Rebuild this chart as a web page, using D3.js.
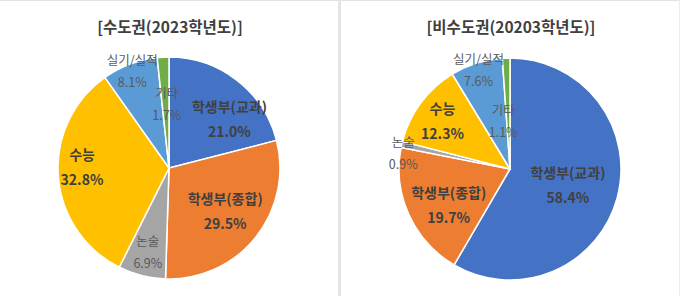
<!DOCTYPE html>
<html>
<head>
<meta charset="utf-8">
<script src="https://cdn.jsdelivr.net/npm/d3@7"></script>
<style>
  body { margin: 0; background: #fff; }
  svg { display: block; }
  text { font-family: "Noto Sans CJK KR", "Noto Sans", sans-serif; }
</style>
</head>
<body>
<div id="chart"></div>
<script>
// data
var categories = ['학생부(교과)', '학생부(종합)', '논술', '수능', '실기/실적', '기타']
var titles = ['[수도권(2023학년도)]', '[비수도권(20203학년도)]']
var capitalValues = [21.0, 29.5, 6.9, 32.8, 8.1, 1.7]
var nonCapitalValues = [58.4, 19.7, 0.9, 12.3, 7.6, 1.1]

var colors = ['#4472C4', '#ED7D31', '#A5A5A5', '#FFC000', '#5B9BD5', '#70AD47']

// label layout per panel: radius and angle shift (deg) from slice middle
var labelLayout = [
    { r: [78, 71, 86, 87, 104, 64], shift: [13, -1, 0, 5, 0, 1], big: [1, 1, 0, 1, 0, 0] },
    { r: [60, 71, 108, 83, 104, 49], shift: [0, -6, -4, -1, 0, -6], big: [1, 1, 0, 1, 0, 0] }
]

var width = 680, height = 296
var svg = d3.select('#chart').append('svg')
    .attr('width', width)
    .attr('height', height)

// frame
svg.append('line')
    .attr('x1', 0).attr('x2', width).attr('y1', 0.5).attr('y2', 0.5)
    .style('stroke', '#e2e2e2')
svg.append('rect')
    .attr('x', 338).attr('y', 0).attr('width', 3).attr('height', height)
    .style('fill', '#e4e4e4')
svg.append('line')
    .attr('x1', 679.5).attr('x2', 679.5).attr('y1', 0).attr('y2', height)
    .style('stroke', '#ececec')

var pie = d3.pie().sort(null).value(d => d)
var arc = d3.arc().innerRadius(0).outerRadius(111)

var panels = [
    { cx: 169, cy: 168, values: capitalValues },
    { cx: 510, cy: 169, values: nonCapitalValues }
]

panels.forEach((p, pi) => {
    svg.append('text')
        .attr('x', p.cx + 1)
        .attr('y', 33)
        .attr('text-anchor', 'middle')
        .style('font-size', '15.5px')
        .style('font-weight', 'bold')
        .style('fill', '#404040')
        .text(titles[pi])

    var g = svg.append('g')
        .attr('transform', `translate(${p.cx}, ${p.cy})`)

    var arcs = pie(p.values)

    g.selectAll('path')
        .data(arcs).enter()
        .append('path')
        .attr('d', arc)
        .style('fill', (d, i) => colors[i])
        .style('stroke', '#fff')
        .style('stroke-width', 1.5)

    var lay = labelLayout[pi]
    var labels = g.selectAll('.lbl')
        .data(arcs).enter()
        .append('text')
        .attr('class', 'lbl')
        .attr('text-anchor', 'middle')
        .attr('transform', (d, i) => {
            var a = (d.startAngle + d.endAngle) / 2 + lay.shift[i] * Math.PI / 180
            var x = lay.r[i] * Math.sin(a)
            var y = -lay.r[i] * Math.cos(a)
            return `translate(${x}, ${y})`
        })
        .style('font-size', (d, i) => lay.big[i] ? '14px' : '12.5px')
        .style('font-weight', (d, i) => lay.big[i] ? 'bold' : 'normal')
        .style('fill', (d, i) => lay.big[i] ? '#404040' : '#595959')

    labels.append('tspan')
        .attr('x', 0)
        .attr('dy', (d, i) => lay.big[i] ? '-0.5em' : '-0.45em')
        .text((d, i) => categories[i])
    labels.append('tspan')
        .attr('x', 0)
        .attr('dy', (d, i) => lay.big[i] ? 25 : 22)
        .text(d => d.data.toFixed(1) + '%')
})
</script>
</body>
</html>
